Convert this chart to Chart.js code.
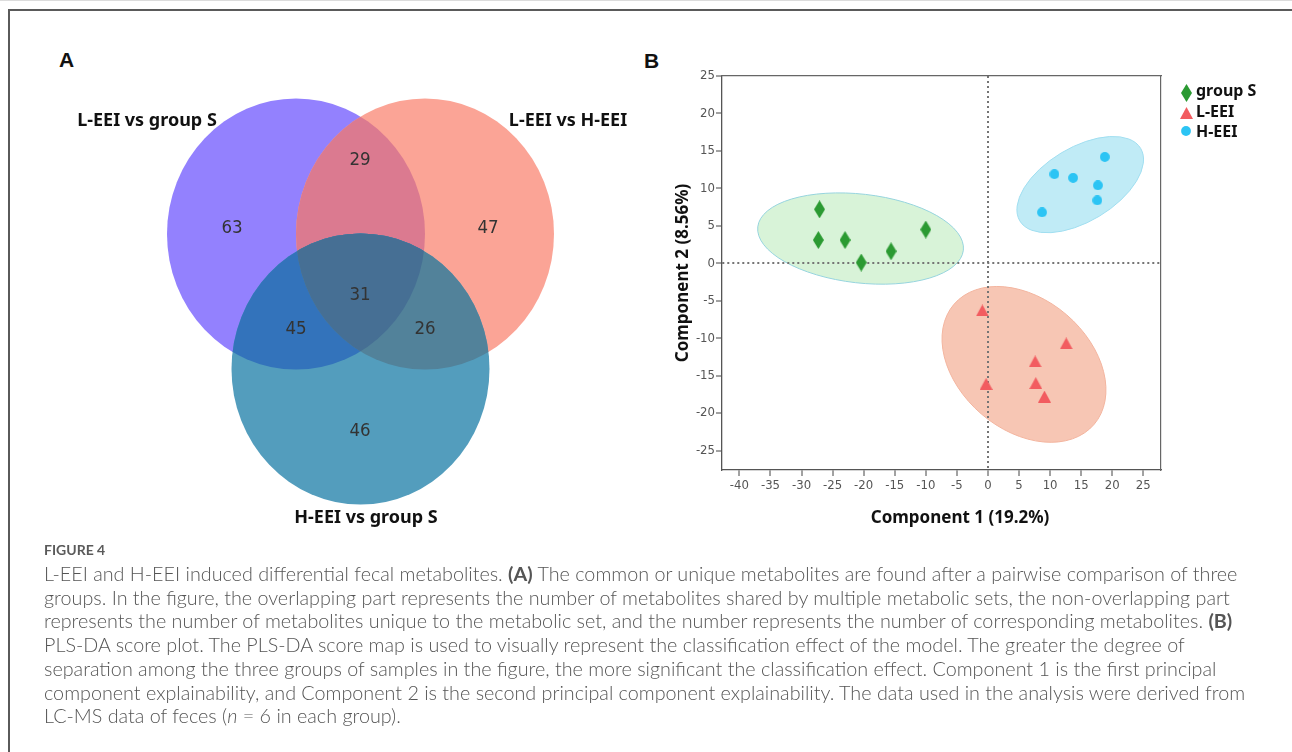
<!DOCTYPE html>
<html>
<head>
<meta charset="utf-8">
<title>Figure 4</title>
<script src="https://cdn.jsdelivr.net/npm/chart.js@4.4.1/dist/chart.umd.min.js"></script>
<style>
  html, body { margin: 0; padding: 0; background: #fff; width: 1292px; height: 752px; overflow: hidden; }
  #topline { position: absolute; left: 0; top: 0; width: 1292px; height: 1px; background: #dcdcdc; }
  #frame { position: absolute; left: 8px; top: 9px; width: 1290px; height: 760px;
           border-top: 2px solid #5a5a5a; border-left: 2px solid #5a5a5a; }
  .panel-label { position: absolute; font: bold 21px "Liberation Sans", Arial, sans-serif; color: #111; line-height: 22px; }
  #vennWrap { position: absolute; left: 40px; top: 40px; width: 600px; height: 500px; }
  #plsWrap { position: absolute; left: 640px; top: 40px; width: 640px; height: 500px; }
  #caption { position: absolute; left: 44px; top: 537px; color: #555; font-family: Lato, "Open Sans", sans-serif; }
  #caption .fig { font-size: 14px; font-weight: 700; line-height: 25px; color: #5a5a5a; }
  #caption .ln { font-size: 17px; font-weight: 300; line-height: 23.7px; white-space: nowrap; width: max-content; }
  #caption b { font-weight: 700; }
</style>
</head>
<body>
<div id="topline"></div>
<div id="frame"></div>
<div class="panel-label" style="left:59px; top:49px;">A</div>
<div class="panel-label" style="left:644px; top:50px;">B</div>
<div id="vennWrap"><canvas id="vennChart" width="600" height="500"></canvas></div>
<div id="plsWrap"><canvas id="plsChart" width="640" height="500"></canvas></div>
<div id="caption">
  <div class="fig">FIGURE 4</div>
  <div class="ln">L-EEI and H-EEI induced differential fecal metabolites. <b>(A)</b> The common or unique metabolites are found after a pairwise comparison of three</div>
  <div class="ln">groups. In the figure, the overlapping part represents the number of metabolites shared by multiple metabolic sets, the non-overlapping part</div>
  <div class="ln">represents the number of metabolites unique to the metabolic set, and the number represents the number of corresponding metabolites. <b>(B)</b></div>
  <div class="ln">PLS-DA score plot. The PLS-DA score map is used to visually represent the classification effect of the model. The greater the degree of</div>
  <div class="ln">separation among the three groups of samples in the figure, the more significant the classification effect. Component 1 is the first principal</div>
  <div class="ln">component explainability, and Component 2 is the second principal component explainability. The data used in the analysis were derived from</div>
  <div class="ln">LC-MS data of feces (<i>n</i> = 6 in each group).</div>
</div>
<script>
// ---------- Panel A: Venn data ----------
const vennSetLabels = ["L-EEI vs group S", "L-EEI vs H-EEI", "H-EEI vs group S"];
// region membership as bit masks: 1 = first set, 2 = second set, 4 = third set
const vennRegionMasks = [1, 2, 3, 4, 5, 6, 7];
const vennRegionCounts = [63, 47, 29, 46, 45, 26, 31];

// ---------- Panel B: PLS-DA scores ----------
const groupNames = ["group S", "L-EEI", "H-EEI"];
const groupS_x = [-27.1, -27.3, -23.0, -20.4, -15.6, -10.0];
const groupS_y = [7.2, 3.1, 3.1, 0.1, 1.6, 4.5];
const lEEI_x = [-0.9, 12.6, 7.6, -0.3, 7.7, 9.1];
const lEEI_y = [-6.3, -10.7, -13.1, -16.1, -16.0, -17.8];
const hEEI_x = [18.8, 10.7, 13.7, 17.7, 17.6, 8.7];
const hEEI_y = [14.2, 11.9, 11.4, 10.4, 8.4, 6.8];
// confidence ellipses per group: centre, semi-axes (data units), tilt in degrees
const ellipseCx = [-20.5, 5.8, 14.85];
const ellipseCy = [3.3, -13.5, 10.5];
const ellipseRx = [16.65, 14.85, 11.34];
const ellipseRy = [5.93, 8.73, 4.93];
const ellipseTilt = [6.5, 40.6, -31];

const xTicks = [-40, -35, -30, -25, -20, -15, -10, -5, 0, 5, 10, 15, 20, 25];
const yTicks = [-25, -20, -15, -10, -5, 0, 5, 10, 15, 20, 25];

// ---------- styles / layout ----------
const NARROW = '"Liberation Sans Narrow", "DejaVu Sans Condensed", "Liberation Sans", sans-serif';
const BOLD_SANS = '"Noto Sans", "Open Sans", sans-serif';

const vennGeom = {
  cx: [-64.5, 64.5, 0],
  cy: [67.5, 67.5, -67.5],
  rx: 129,
  ry: 135.5,
  labelX: [-213.5, 207.5, 5.5],
  labelY: [180.5, 180.5, -216.5],
  // count anchors in the order of vennRegionMasks
  countX: [-128.5, 127.5, -0.5, -0.5, -64.5, 64.5, -0.5],
  countY: [73.5, 73.5, 141.5, -129.5, -27.5, -27.5, 6.5]
};
const vennColors = { 1: "#9381fe", 2: "#fba496", 3: "#db7a90", 4: "#539dbd", 5: "#3373bb", 6: "#52829a", 7: "#466f94" };

const ellipseFill = ["rgba(190,235,190,0.6)", "rgba(242,160,130,0.6)", "rgba(150,222,240,0.6)"];
const ellipseStroke = ["rgba(150,212,222,1)", "rgba(243,180,158,1)", "rgba(160,222,240,1)"];
const markerColors = ["#2b9a32", "#f25c60", "#2cc4f4"];

// marker glyphs drawn once on small canvases and used as point styles
function makeMarker(kind, color) {
  const c = document.createElement("canvas");
  const g = c.getContext("2d");
  if (kind === "diamond") {
    c.width = 11; c.height = 18;
    g.beginPath(); g.moveTo(5.5, 0); g.lineTo(11, 9); g.lineTo(5.5, 18); g.lineTo(0, 9); g.closePath();
  } else if (kind === "triangle") {
    c.width = 13; c.height = 12;
    g.beginPath(); g.moveTo(6.5, 0); g.lineTo(13, 12); g.lineTo(0, 12); g.closePath();
  } else {
    c.width = 10; c.height = 10;
    g.beginPath(); g.arc(5, 5, 4.9, 0, 2 * Math.PI);
  }
  g.fillStyle = color;
  g.fill();
  return c;
}
const markers = [
  makeMarker("diamond", markerColors[0]),
  makeMarker("triangle", markerColors[1]),
  makeMarker("circle", markerColors[2])
];

function toPoints(xs, ys) {
  return xs.map((v, i) => ({ x: v, y: ys[i] }));
}

// ---------- Venn panel ----------
const vennPlugin = {
  id: "venn",
  afterDraw(chart) {
    const { ctx, scales: { x, y } } = chart;
    const ux = Math.abs(x.getPixelForValue(1) - x.getPixelForValue(0));
    const uy = Math.abs(y.getPixelForValue(1) - y.getPixelForValue(0));
    const path = (i) => {
      ctx.beginPath();
      ctx.ellipse(x.getPixelForValue(vennGeom.cx[i]), y.getPixelForValue(vennGeom.cy[i]),
        vennGeom.rx * ux, vennGeom.ry * uy, 0, 0, 2 * Math.PI);
    };
    const fillRegion = (mask, clips, set) => {
      ctx.save();
      clips.forEach((i) => { path(i); ctx.clip(); });
      path(set);
      ctx.fillStyle = vennColors[mask];
      ctx.fill();
      ctx.restore();
    };
    // paint back to front so every overlap gets its own colour
    fillRegion(1, [], 0);
    fillRegion(2, [], 1);
    fillRegion(3, [0], 1);
    fillRegion(4, [], 2);
    fillRegion(5, [2], 0);
    fillRegion(6, [2], 1);
    fillRegion(7, [2, 0], 1);

    ctx.save();
    ctx.textAlign = "center";
    ctx.textBaseline = "middle";
    ctx.fillStyle = "#333";
    ctx.font = "18.5px " + NARROW;
    vennRegionMasks.forEach((m, i) => {
      ctx.fillText(String(vennRegionCounts[i]),
        x.getPixelForValue(vennGeom.countX[i]), y.getPixelForValue(vennGeom.countY[i]));
    });
    ctx.fillStyle = "#111";
    ctx.font = "bold 18px " + BOLD_SANS;
    vennSetLabels.forEach((t, i) => {
      ctx.fillText(t, x.getPixelForValue(vennGeom.labelX[i]), y.getPixelForValue(vennGeom.labelY[i]));
    });
    ctx.restore();
  }
};

new Chart(document.getElementById("vennChart"), {
  type: "scatter",
  data: { datasets: [] },
  options: {
    responsive: false,
    animation: false,
    devicePixelRatio: 1,
    layout: { padding: 0 },
    plugins: { legend: { display: false }, tooltip: { enabled: false } },
    scales: {
      x: { type: "linear", display: false, min: -320.5, max: 279.5 },
      y: { type: "linear", display: false, min: -238.5, max: 261.5 }
    }
  },
  plugins: [vennPlugin]
});

// ---------- PLS-DA panel ----------
const ellipsePlugin = {
  id: "groupEllipses",
  beforeDraw(chart) {
    const { ctx, scales: { x, y } } = chart;
    const ux = Math.abs(x.getPixelForValue(1) - x.getPixelForValue(0));
    const uy = Math.abs(y.getPixelForValue(1) - y.getPixelForValue(0));
    ellipseCx.forEach((cx, i) => {
      ctx.save();
      ctx.beginPath();
      ctx.ellipse(x.getPixelForValue(cx), y.getPixelForValue(ellipseCy[i]),
        ellipseRx[i] * ux, ellipseRy[i] * uy, ellipseTilt[i] * Math.PI / 180, 0, 2 * Math.PI);
      ctx.fillStyle = ellipseFill[i];
      ctx.fill();
      ctx.lineWidth = 1;
      ctx.strokeStyle = ellipseStroke[i];
      ctx.stroke();
      ctx.restore();
    });
  }
};

// legend offsets from the chart area's top-right corner
const legendMarkerDx = 25, legendTextDx = 35;
const legendMarkerDy = [17, 36.5, 55];
const legendTextDy = [19.5, 40.5, 60.5];

const sideLegend = {
  id: "sideLegend",
  afterDraw(chart) {
    const { ctx, chartArea } = chart;
    ctx.save();
    ctx.font = "bold 16px " + BOLD_SANS;
    ctx.fillStyle = "#111";
    ctx.textBaseline = "alphabetic";
    chart.data.datasets.forEach((ds, i) => {
      const img = ds.pointStyle;
      const mx = chartArea.right + legendMarkerDx;
      const my = chartArea.top + legendMarkerDy[i];
      ctx.drawImage(img, Math.round(mx - img.width / 2), Math.round(my - img.height / 2));
      ctx.fillText(ds.label, chartArea.right + legendTextDx, chartArea.top + legendTextDy[i]);
    });
    ctx.restore();
  }
};

const zeroLine = (c) => (c.tick && c.tick.value === 0 ? "#747474" : "rgba(0,0,0,0)");
const tickFont = { family: NARROW, size: 13 };

new Chart(document.getElementById("plsChart"), {
  type: "scatter",
  data: {
    datasets: [
      { label: groupNames[0], data: toPoints(groupS_x, groupS_y), pointStyle: markers[0], pointRadius: 6 },
      { label: groupNames[1], data: toPoints(lEEI_x, lEEI_y), pointStyle: markers[1], pointRadius: 6 },
      { label: groupNames[2], data: toPoints(hEEI_x, hEEI_y), pointStyle: markers[2], pointRadius: 6 }
    ]
  },
  options: {
    responsive: false,
    animation: false,
    devicePixelRatio: 1,
    layout: { padding: { left: 0, top: 36, right: 0, bottom: 11.8 } },
    plugins: {
      legend: { display: false },
      tooltip: { enabled: false },
      title: {
        display: true,
        position: "bottom",
        text: "Component 1 (19.2%)",
        color: "#111",
        font: { family: BOLD_SANS, size: 17, weight: "bold" },
        padding: { top: 7.8, bottom: 0 }
      }
    },
    scales: {
      x: {
        type: "linear",
        min: -42.8,
        max: 27.85,
        afterBuildTicks: (axis) => { axis.ticks = xTicks.map((v) => ({ value: v })); },
        afterFit: (axis) => { axis.height = 30; },
        grid: { color: zeroLine, lineWidth: 2, tickLength: 6, tickColor: "#444", tickWidth: 1 },
        border: { color: "#555", width: 1.3, dash: [2, 3] },
        ticks: { font: tickFont, color: "#555", padding: 2, maxRotation: 0, autoSkip: false }
      },
      y: {
        type: "linear",
        min: -27.6,
        max: 25,
        afterBuildTicks: (axis) => { axis.ticks = yTicks.map((v) => ({ value: v })); },
        afterFit: (axis) => { axis.width = 82; },
        grid: { color: zeroLine, lineWidth: 2, tickLength: 6, tickColor: "#444", tickWidth: 1 },
        border: { color: "#555", width: 1.3, dash: [2, 3] },
        ticks: { font: tickFont, color: "#555", padding: 1, autoSkip: false },
        title: {
          display: true,
          text: "Component 2 (8.56%)",
          color: "#111",
          font: { family: BOLD_SANS, size: 17, weight: "bold" },
          padding: { top: 32.8, bottom: 0 }
        }
      },
      // plain axes on the far sides close the frame and keep room for the legend
      x2: {
        type: "linear", position: "top", min: -42.8, max: 27.85,
        afterFit: (axis) => { axis.height = 0; },
        grid: { display: false }, ticks: { display: false },
        border: { color: "#666", width: 1.2 }
      },
      y2: {
        type: "linear", position: "right", min: -27.6, max: 25,
        afterFit: (axis) => { axis.width = 119; },
        grid: { display: false }, ticks: { display: false },
        border: { color: "#666", width: 1.2 }
      }
    }
  },
  plugins: [ellipsePlugin, sideLegend]
});

// size the caption so its first line spans the same width as in the figure
(function fitCaption() {
  const lines = document.querySelectorAll("#caption .ln");
  const w = lines[0].getBoundingClientRect().width;
  const size = 17 * 1194 / w;
  lines.forEach((l) => { l.style.fontSize = size.toFixed(2) + "px"; });
})();
</script>
</body>
</html>
